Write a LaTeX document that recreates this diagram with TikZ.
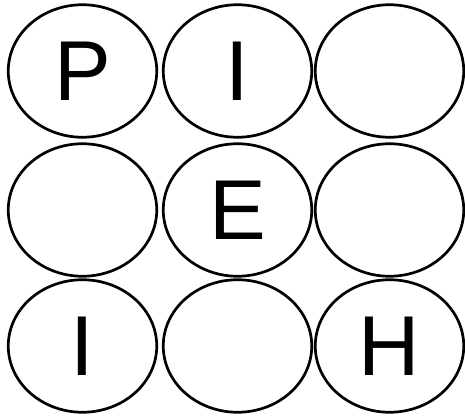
\documentclass[tikz,border=0pt]{standalone}
\usepackage{fontspec}
\setmainfont{Liberation Sans}
\usetikzlibrary{shapes.geometric}

\begin{document}
\begin{tikzpicture}[x=1pt, y=1pt,
  cell/.style={draw, ellipse, line width=2.7pt, inner sep=0pt, minimum width=148.5pt, minimum height=132.5pt,
    font=\fontsize{85}{85}\selectfont}]
\useasboundingbox (0,0) rectangle (465,-419);
\node[cell] (p)  at (82.5,-71) {P};
\node[cell] (ia) at (237.5,-71) {I};
\node[cell] (tr) at (389.5,-71) {};
\node[cell] (ml) at (82.5,-210) {};
\node[cell] (e)  at (237.5,-210) {E};
\node[cell] (mr) at (389.5,-210) {};
\node[cell] (ib) at (82.5,-346) {I};
\node[cell] (bm) at (237.5,-346) {};
\node[cell] (h)  at (389.5,-346) {H};
\end{tikzpicture}
\end{document}
